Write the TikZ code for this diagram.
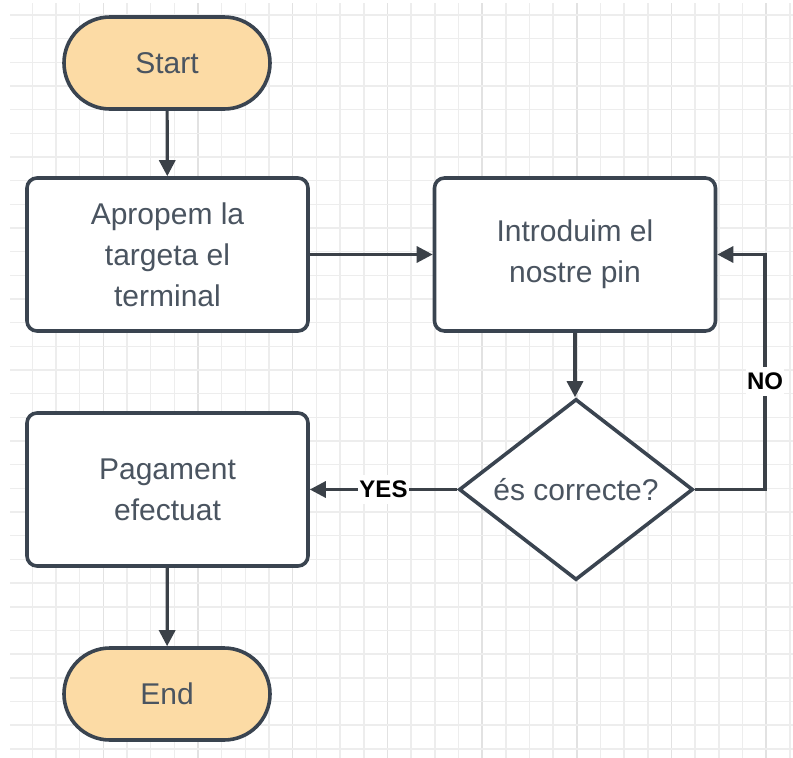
\documentclass[tikz,border=0pt]{standalone}
\usepackage{fontspec}
\setmainfont{Liberation Sans}
\usetikzlibrary{arrows.meta,shapes.geometric}
\definecolor{stroke}{HTML}{3A4450}
\definecolor{conn}{HTML}{3B4148}
\definecolor{txt}{HTML}{4A5460}
\definecolor{termfill}{HTML}{FCDBA5}
\definecolor{gridminor}{HTML}{EDEDED}
\definecolor{gridmajor}{HTML}{E2E2E2}
\tikzset{
  base/.style={draw=stroke, line width=3.6pt, text=txt, align=center, inner sep=0pt,
    font=\fontsize{30}{41}\selectfont},
  term/.style={base, fill=termfill, rectangle, minimum width=206pt, minimum height=92pt, rounded corners=46pt},
  procbox/.style={base, fill=white, rectangle, minimum width=281pt, minimum height=153pt, rounded corners=10pt},
  decision/.style={base, fill=white, diamond, shape aspect=1.29, minimum width=234pt, minimum height=181pt},
  conn/.style={draw=conn, line width=3.2pt, -{Triangle[length=16pt,width=16pt]}},
  lbl/.style={fill=white, text=black, inner xsep=1pt, inner ysep=6pt, font=\fontsize{24}{26}\selectfont\bfseries}
}
\begin{document}
\begin{tikzpicture}[x=1pt,y=-1pt]
\useasboundingbox (0,0) rectangle (793,758);
\fill[white] (0,0) rectangle (793,758);
% grid
\foreach \k in {1,...,33}{
  \pgfmathsetmacro{\gx}{8.7+23.67*\k}
  \pgfmathtruncatemacro{\m}{mod(\k,4)}
  \ifnum\m=0
    \draw[gridmajor, line width=1.5pt] (\gx,3) -- (\gx,758);
  \else
    \draw[gridminor, line width=1.5pt] (\gx,3) -- (\gx,758);
  \fi
}
\foreach \k in {0,...,31}{
  \pgfmathsetmacro{\gy}{15+23.67*\k}
  \draw[gridminor, line width=1.5pt] (10,\gy) -- (793,\gy);
}
% nodes
\node[term] (start) at (167,63) {Start};
\node[procbox] (b1) at (167.5,254.5) {Apropem la\\targeta el\\terminal};
\node[procbox] (b2) at (575,254.5) {Introduim el\\nostre pin};
\node[decision] (dec) at (576,489.5) {és correcte?};
\node[procbox] (b3) at (167.5,489.5) {Pagament\\efectuat};
\node[term] (end) at (167,694) {End};
\coordinate (nocorner) at (765,489.5);
% connectors
\draw[conn] (start) -- (b1);
\draw[conn] (b1) -- (b2);
\draw[conn] (b2.south) -- (b2.south |- dec.north);
\draw[conn] (dec.west) -- node[lbl]{YES} (b3.east);
\draw[conn] (dec.east) -- (nocorner) |- node[lbl, pos=0.23]{NO} (b2.east);
\draw[conn] (b3) -- (end);
\end{tikzpicture}
\end{document}
